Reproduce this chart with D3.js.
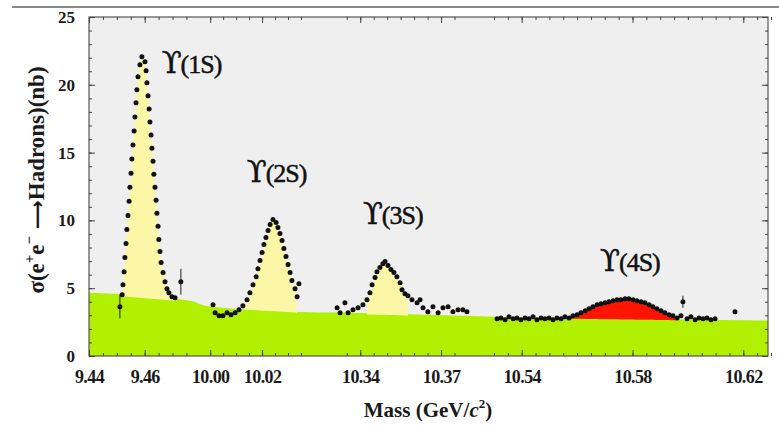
<!DOCTYPE html>
<html>
<head>
<meta charset="utf-8">
<script src="https://cdnjs.cloudflare.com/ajax/libs/d3/7.8.5/d3.min.js"></script>
<style>
  body { margin: 0; background: #fff; }
  svg text { font-family: "Liberation Serif", "DejaVu Serif", serif; }
</style>
</head>
<body>
<script>
// broken mass axis: each piece of mass range gets its own stretch of pixels
const segMass = [9.44, 9.477, 9.998, 10.035, 10.331, 10.38, 10.53, 10.63]
const xTicks = [9.44, 9.46, 10.00, 10.02, 10.34, 10.37, 10.54, 10.58, 10.62]
const yTicks = [0, 5, 10, 15, 20, 25]

// continuum (green band), read at the segment edges
const contMass = [9.44, 9.477, 9.998, 10.035, 10.331, 10.38, 10.53, 10.63]
const contVal  = [4.67, 4.05, 3.7, 3.25, 3.2, 2.95, 2.9, 2.62]

// Y(1S) scan
const mass1S = [9.4511, 9.4519, 9.4522, 9.4526, 9.4529, 9.4533, 9.4536, 9.4540, 9.4544, 9.4547,
  9.4551, 9.4554, 9.4558, 9.4562, 9.4565, 9.4569, 9.4572, 9.4576, 9.4583, 9.4590,
  9.4601, 9.4605, 9.4608, 9.4612, 9.4616, 9.4619, 9.4623, 9.4626, 9.4630, 9.4633,
  9.4637, 9.4641, 9.4644, 9.4648, 9.4651, 9.4655, 9.4659, 9.4666, 9.4673, 9.4680,
  9.4687, 9.4698, 9.4709, 9.4730]
const xsec1S = [3.63, 4.52, 5.26, 6.22, 7.26, 8.30, 9.33, 10.37, 11.41, 12.44,
  13.48, 14.52, 15.56, 16.59, 17.63, 18.67, 19.63, 20.59, 21.48, 22.07,
  21.70, 21.04, 20.15, 19.19, 18.22, 17.26, 16.30, 15.33, 14.37, 13.41,
  12.44, 11.48, 10.52, 9.56, 8.59, 7.70, 6.89, 6.15, 5.48, 4.96,
  4.67, 4.37, 4.30, 5.48]

// Y(2S) scan
const mass2S = [10.0011, 10.0019, 10.0034, 10.0049, 10.0065, 10.0080, 10.0096, 10.0111, 10.0126, 10.0142,
  10.0153, 10.0165, 10.0177, 10.0184, 10.0192, 10.0200, 10.0207, 10.0215, 10.0223, 10.0231,
  10.0242, 10.0254, 10.0261, 10.0269, 10.0277, 10.0284, 10.0292, 10.0300, 10.0308, 10.0315,
  10.0327, 10.0335, 10.0342]
const xsec2S = [3.78, 3.19, 2.96, 2.96, 3.19, 3.04, 3.19, 3.41, 3.70, 4.15,
  4.67, 5.26, 5.85, 6.44, 7.04, 7.63, 8.22, 8.74, 9.26, 9.70,
  10.07, 9.85, 9.48, 9.04, 8.52, 7.93, 7.33, 6.74, 6.15, 5.56,
  4.96, 4.37, 5.33]

// Y(3S) scan
const mass3S = [10.3314, 10.3325, 10.3343, 10.3355, 10.3373, 10.3392, 10.3410, 10.3425, 10.3436, 10.3444,
  10.3455, 10.3462, 10.3473, 10.3484, 10.3492, 10.3503, 10.3514, 10.3525, 10.3536, 10.3548,
  10.3555, 10.3566, 10.3577, 10.3592, 10.3611, 10.3622, 10.3633, 10.3651, 10.3670, 10.3689,
  10.3707, 10.3726, 10.3744, 10.3763, 10.3781, 10.3796]
const xsec3S = [3.56, 3.19, 3.93, 3.19, 3.41, 3.56, 3.78, 4.15, 4.67, 5.26,
  5.78, 6.22, 6.52, 6.81, 6.96, 6.67, 6.37, 6.15, 5.85, 5.41,
  4.89, 4.59, 4.44, 4.15, 3.93, 4.15, 3.56, 3.26, 3.63, 3.19,
  3.56, 3.63, 3.26, 3.41, 3.41, 3.26]

// Y(4S) scan
const mass4S = [10.5311, 10.5325, 10.5340, 10.5354, 10.5369, 10.5383, 10.5397, 10.5412, 10.5426, 10.5441,
  10.5455, 10.5470, 10.5484, 10.5499, 10.5513, 10.5527, 10.5542, 10.5556, 10.5571, 10.5585,
  10.5600, 10.5614, 10.5629, 10.5643, 10.5657, 10.5672, 10.5686, 10.5701, 10.5715, 10.5730,
  10.5744, 10.5758, 10.5773, 10.5787, 10.5802, 10.5816, 10.5831, 10.5845, 10.5860, 10.5874,
  10.5888, 10.5903, 10.5917, 10.5932, 10.5946, 10.5961, 10.5975, 10.5997, 10.6011, 10.6026,
  10.6040, 10.6055, 10.6069, 10.6083, 10.6098, 10.6170]
const xsec4S = [2.74, 2.81, 2.67, 2.89, 2.74, 2.81, 2.67, 2.81, 2.74, 2.89,
  2.67, 2.81, 2.74, 2.81, 2.67, 2.81, 2.74, 2.89, 2.81, 2.96,
  3.04, 3.19, 3.33, 3.48, 3.63, 3.78, 3.85, 3.93, 4.00, 4.07,
  4.15, 4.15, 4.22, 4.22, 4.15, 4.07, 4.00, 3.93, 3.78, 3.63,
  3.48, 3.33, 3.19, 3.04, 2.96, 2.81, 2.96, 2.74, 2.89, 2.67,
  2.81, 2.74, 2.81, 2.67, 2.74, 3.26]

// points drawn with an error bar
const errMass = [9.4511, 9.4730, 10.5982]
const errVal  = [3.63, 5.48, 4.00]
const errSize = [0.85, 0.95, 0.45]

const peakNames = ["1S", "2S", "3S", "4S"]
const peakLabelMass = [9.4661, 10.0141, 10.341, 10.5683]
const peakLabelVal  = [20.9, 12.8, 9.75, 6.3]

const W = 779, H = 428
const L = 89, R = 768, T = 17, B = 356
const segPx = [89, 192, 205, 301, 336, 468, 494, 771]

const svg = d3.select("body").append("svg")
    .attr("width", W)
    .attr("height", H)

const x = d3.scaleLinear().domain(segMass).range(segPx)
const y = d3.scaleLinear().domain([0, 25]).range([B, T])
const cont = d3.scaleLinear().domain(contMass).range(contVal)

// grey rule across the top of the figure
svg.append("line")
    .attr("x1", 12).attr("x2", W).attr("y1", 7).attr("y2", 7)
    .attr("stroke", "#8a8a8a").attr("stroke-width", 2)

svg.append("clipPath").attr("id", "clip")
  .append("rect").attr("x", L).attr("y", T).attr("width", R - L).attr("height", B - T)

svg.append("rect")
    .attr("x", L).attr("y", T).attr("width", R - L).attr("height", B - T)
    .attr("fill", "#efeff0")

const g = svg.append("g").attr("clip-path", "url(#clip)")

// continuum band
g.append("path")
    .datum(contMass.map((m, i) => [m, contVal[i]]))
    .attr("fill", "#b0f000")
    .attr("d", d3.area().x(d => x(d[0])).y0(B).y1(d => y(d[1])).curve(d3.curveMonotoneX))

function fillPeak(ms, vs, lo, hi, col) {
    let pts = ms.map((m, i) => [m, vs[i]]).filter(d => d[0] >= lo && d[0] <= hi)
    g.append("path")
        .datum(pts)
        .attr("fill", col)
        .attr("d", d3.area()
            .x(d => x(d[0]))
            .y0(d => y(cont(d[0])) + 1)
            .y1(d => y(Math.max(d[1], cont(d[0])))))
}
fillPeak(mass1S, xsec1S, 9.451, 9.471, "#fbf7a6")
fillPeak(mass2S, xsec2S, 10.012, 10.0336, "#fbf7a6")
fillPeak(mass3S, xsec3S, 10.342, 10.358, "#fbf7a6")
fillPeak(mass4S, xsec4S, 10.556, 10.597, "#ff1400")

// error bars
errMass.forEach((m, i) => {
    g.append("line")
        .attr("x1", x(m)).attr("x2", x(m))
        .attr("y1", y(errVal[i] - errSize[i])).attr("y2", y(errVal[i] + errSize[i]))
        .attr("stroke", "#222").attr("stroke-width", 1)
})

// data points
const allPts = [[mass1S, xsec1S], [mass2S, xsec2S], [mass3S, xsec3S], [mass4S, xsec4S]]
allPts.forEach(s => {
    g.selectAll("empty")
        .data(s[0].map((m, i) => [m, s[1][i]]))
        .enter()
        .append("circle")
        .attr("cx", d => x(d[0]))
        .attr("cy", d => y(d[1]))
        .attr("r", 2.5)
        .attr("fill", "#111")
})
g.append("circle").attr("cx", x(errMass[2])).attr("cy", y(errVal[2])).attr("r", 2.5).attr("fill", "#111")

// frame
svg.append("rect")
    .attr("x", L).attr("y", T).attr("width", R - L).attr("height", B - T)
    .attr("fill", "none").attr("stroke", "#555").attr("stroke-width", 1.2)

// minor tick values inside each axis piece
let xMinor = []
for (let k = 0; k < segMass.length; k += 2) {
    xMinor = xMinor.concat(d3.range(Math.ceil(segMass[k] * 200) / 200, segMass[k + 1], 0.005))
}
const yMinor = d3.range(0, 25.01, 1)

function tickGroup(axis, tx, ty) {
    let a = svg.append("g").attr("transform", "translate(" + tx + "," + ty + ")").call(axis)
    a.select(".domain").remove()
    a.selectAll("line").attr("stroke", "#444")
    return a
}
tickGroup(d3.axisTop(x).tickValues(xMinor).tickSize(-3).tickFormat(""), 0, T)
tickGroup(d3.axisTop(x).tickValues(xTicks).tickSize(-6).tickFormat(""), 0, T)
tickGroup(d3.axisBottom(x).tickValues(xMinor).tickSize(-3).tickFormat(""), 0, B)
tickGroup(d3.axisLeft(y).tickValues(yMinor).tickSize(-3).tickFormat(""), L, 0)
tickGroup(d3.axisRight(y).tickValues(yMinor).tickSize(-3).tickFormat(""), R, 0)
tickGroup(d3.axisRight(y).tickValues(yTicks).tickSize(-6).tickFormat(""), R, 0)

let xa = tickGroup(d3.axisBottom(x).tickValues(xTicks).tickSize(-6).tickPadding(14).tickFormat(d3.format(".2f")), 0, B)
xa.selectAll("text")
    .attr("font-size", 18).attr("font-weight", "bold").attr("fill", "#1a1a1a")
    .attr("letter-spacing", -0.6)

let ya = tickGroup(d3.axisLeft(y).tickValues(yTicks).tickSize(-6).tickPadding(14), L, 0)
ya.selectAll("text")
    .attr("font-size", 17).attr("font-weight", "bold").attr("fill", "#1a1a1a")

// axis titles
let xt = svg.append("text")
    .attr("x", 428).attr("y", 417)
    .attr("text-anchor", "middle")
    .attr("font-size", 21).attr("font-weight", "bold").attr("fill", "#1a1a1a")
xt.append("tspan").text("Mass (GeV/")
xt.append("tspan").attr("font-style", "italic").text("c")
xt.append("tspan").attr("font-size", 13).attr("dy", -9).text("2")
xt.append("tspan").attr("dy", 9).text(")")

let yt = svg.append("text")
    .attr("transform", "translate(44,180) rotate(-90)")
    .attr("text-anchor", "middle")
    .attr("font-size", 23).attr("font-weight", "bold").attr("fill", "#1a1a1a")
yt.append("tspan").text("σ(e")
yt.append("tspan").attr("font-size", 15).attr("dy", -10).text("+")
yt.append("tspan").attr("dy", 10).text("e")
yt.append("tspan").attr("font-size", 15).attr("dy", -10).text("−")
yt.append("tspan").attr("dy", 10).attr("font-family", "DejaVu Sans").attr("font-size", 20).text(" ⟶")
yt.append("tspan").text("Hadrons)(nb)")

// resonance labels
peakNames.forEach((n, i) => {
    let t = svg.append("text")
        .attr("x", x(peakLabelMass[i]))
        .attr("y", y(peakLabelVal[i]))
        .attr("fill", "#111")
        .attr("stroke", "#111").attr("stroke-width", 0.5)
    t.append("tspan").attr("font-size", 29).attr("font-family", "DejaVu Serif").text("ϒ")
    t.append("tspan").attr("font-size", 26).attr("letter-spacing", -1).attr("dx", -1).text("(" + n + ")")
})
</script>
</body>
</html>
